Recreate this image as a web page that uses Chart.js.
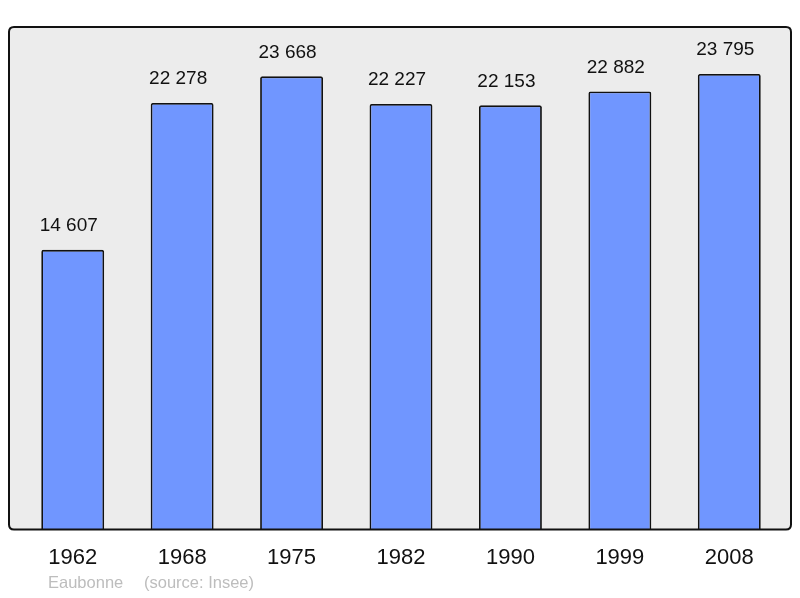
<!DOCTYPE html>
<html>
<head>
<meta charset="utf-8">
<script src="https://cdn.jsdelivr.net/npm/chart.js@4"></script>
<style>
html,body{margin:0;padding:0;background:#fff;}
#wrap{width:800px;height:598px;}
</style>
</head>
<body>
<div id="wrap"><canvas id="c" width="800" height="598"></canvas></div>
<script>
const years = ["1962","1968","1975","1982","1990","1999","2008"];
const population = [14607,22278,23668,22227,22153,22882,23795];
const footerName = "Eaubonne";
const footerSource = "(source: Insee)";

function fmt(v){return String(v).replace(/\B(?=(\d{3})+(?!\d))/g," ");}

function roundRect(ctx,x,y,w,h,r){
  ctx.beginPath();
  ctx.moveTo(x+r,y);ctx.lineTo(x+w-r,y);ctx.quadraticCurveTo(x+w,y,x+w,y+r);
  ctx.lineTo(x+w,y+h-r);ctx.quadraticCurveTo(x+w,y+h,x+w-r,y+h);
  ctx.lineTo(x+r,y+h);ctx.quadraticCurveTo(x,y+h,x,y+h-r);
  ctx.lineTo(x,y+r);ctx.quadraticCurveTo(x,y,x+r,y);ctx.closePath();
}

const framePlugin = {
  id:'frame',
  beforeDatasetsDraw(chart){
    const {ctx,chartArea:a}=chart;
    ctx.save();
    roundRect(ctx,a.left-9,a.top,a.right-a.left+16,a.bottom-a.top,5);
    ctx.fillStyle='#ececec';ctx.fill();
    ctx.restore();
  },
  afterDatasetsDraw(chart){
    const {ctx,chartArea:a}=chart;
    ctx.save();
    roundRect(ctx,a.left-9,a.top,a.right-a.left+16,a.bottom-a.top,5);
    ctx.lineWidth=2;ctx.strokeStyle='#111';ctx.stroke();
    const meta=chart.getDatasetMeta(0);
    ctx.fillStyle='#111';ctx.font='19px "Liberation Sans", Arial, sans-serif';
    ctx.textAlign='center';ctx.textBaseline='middle';
    meta.data.forEach((bar,i)=>{
      ctx.fillText(fmt(population[i]),bar.x-4,bar.y-24);
    });
    ctx.fillStyle='#bdbdbd';ctx.font='16.5px "Liberation Sans", Arial, sans-serif';
    ctx.textAlign='left';
    ctx.fillText(footerName,48,583);
    ctx.fillText(footerSource,144,583);
    ctx.restore();
  }
};

new Chart(document.getElementById('c'),{
  type:'bar',
  data:{labels:years,datasets:[{
    data:population,
    backgroundColor:'#7096ff',
    borderColor:'#111',
    borderWidth:1.8,
    borderRadius:2,
    borderSkipped:'bottom',
    categoryPercentage:1,
    barPercentage:0.575
  }]},
  options:{
    responsive:false,
    animation:false,
    devicePixelRatio:1,
    layout:{padding:{left:18,right:16,top:27,bottom:20}},
    plugins:{legend:{display:false},tooltip:{enabled:false}},
    scales:{
      x:{
        grid:{display:false},border:{display:false},
        ticks:{color:'#111',padding:7,font:{size:22,family:'"Liberation Sans", Arial, sans-serif'}}
      },
      y:{display:false,min:0,max:26245}
    }
  },
  plugins:[framePlugin]
});
</script>
</body>
</html>
